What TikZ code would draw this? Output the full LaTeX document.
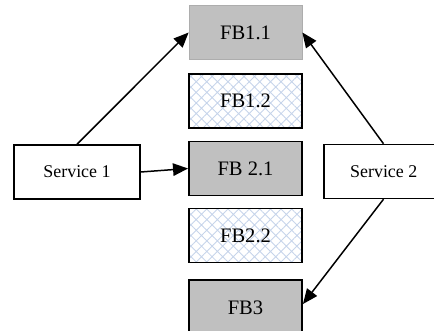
\documentclass[tikz,border=0pt]{standalone}
\usepackage{fontspec}
\setmainfont{Liberation Serif}
\usetikzlibrary{arrows.meta,patterns.meta}

\definecolor{boxgray}{HTML}{C0C0C0}
\definecolor{hatchblue}{HTML}{C6D4EA}

\begin{document}
\begin{tikzpicture}[->,>={Triangle[length=0.3cm,width=0.25cm]}, line width=0.85pt,
  fb node/.style={minimum width=2.26cm, minimum height=1.08cm, inner sep=0pt, font=\fontsize{11.7}{14}\selectfont},
  gray node/.style={fb node, fill=boxgray, draw=black, line width=1.1pt},
  hatch node/.style={fb node, draw=black, line width=1.1pt, pattern={Hatch[angle=45,distance=0.15cm,line width=0.5pt]}, pattern color=hatchblue},
  service node/.style={draw, fill=white, minimum height=1.08cm, inner sep=0pt, line width=0.85pt, font=\fontsize{10.2}{12}\selectfont}]
\clip (0,0) rectangle (8.68,-6.62);

\node [fb node, fill=boxgray, draw=boxgray!90!black, line width=0.4pt] (fb11) at (4.91,-0.65) {FB1.1};
\node [hatch node] (fb12) at (4.91,-2.02) {FB1.2};
\node [gray node] (fb21) at (4.91,-3.37) {FB 2.1};
\node [hatch node] (fb22) at (4.91,-4.71) {FB2.2};
\node [gray node, minimum height=1.12cm] (fb3) at (4.91,-6.16) {FB3};

\node [service node, minimum width=2.52cm] (s1) at (1.54,-3.44) {Service 1};
% box runs past the right edge, text stays at 7.67
\node [service node, minimum width=2.7cm] (s2) at (7.83,-3.43) {Service 2\hspace*{0.31cm}};

\draw (s1.north) -- (fb11.west);
\draw (s1.east) -- (fb21.west);
\draw ([xshift=-0.16cm]s2.north) -- (fb11.east);
\draw ([xshift=-0.16cm]s2.south) -- ([yshift=0.08cm]fb3.east);
\end{tikzpicture}
\end{document}
